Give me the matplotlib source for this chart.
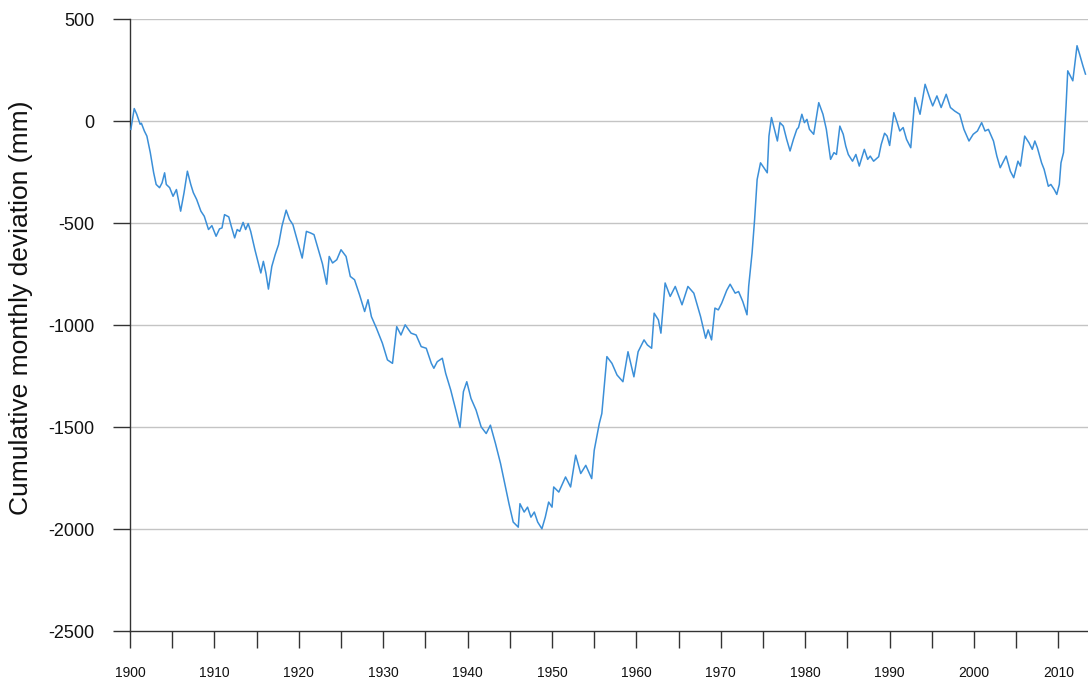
import matplotlib
matplotlib.use("Agg")
import matplotlib.pyplot as plt
from matplotlib.ticker import FixedLocator

plt.rcParams['font.family'] = ['Liberation Sans', 'DejaVu Sans']

years = [
    1900.1, 1900.5, 1900.8, 1901.2, 1901.35, 1901.7, 1902.0, 1902.4, 1902.8, 1903.1,
    1903.5, 1903.8, 1904.1, 1904.3, 1904.7, 1905.1, 1905.5, 1906.0, 1906.4, 1906.8,
    1907.2, 1907.5, 1907.9, 1908.4, 1908.8, 1909.3, 1909.7, 1910.2, 1910.6, 1910.9,
    1911.2, 1911.7, 1912.0, 1912.4, 1912.7, 1913.0, 1913.4, 1913.7, 1914.0, 1914.3,
    1914.8, 1915.2, 1915.5, 1915.8, 1916.1, 1916.4, 1916.8, 1917.2, 1917.6, 1918.0,
    1918.5, 1918.9, 1919.3, 1919.8, 1920.4, 1920.9, 1921.4, 1921.8, 1922.2, 1922.8,
    1923.3, 1923.6, 1924.0, 1924.5, 1925.0, 1925.6, 1926.1, 1926.6, 1927.2, 1927.8,
    1928.2, 1928.6, 1929.2, 1929.9, 1930.5, 1931.1, 1931.6, 1932.1, 1932.6, 1933.3,
    1933.9, 1934.5, 1935.1, 1935.7, 1936.0, 1936.4, 1937.0, 1937.4, 1938.0, 1938.6,
    1939.1, 1939.5, 1939.9, 1940.4, 1941.0, 1941.6, 1942.2, 1942.7, 1943.3, 1943.9,
    1944.4, 1944.9, 1945.4, 1946.0, 1946.2, 1946.7, 1947.1, 1947.5, 1947.9, 1948.3,
    1948.8, 1949.2, 1949.6, 1950.0, 1950.2, 1950.8, 1951.6, 1952.2, 1952.8, 1953.4,
    1954.0, 1954.7, 1955.0, 1955.6, 1955.9, 1956.5, 1957.1, 1957.7, 1958.4, 1959.0,
    1959.7, 1960.2, 1960.9, 1961.3, 1961.8, 1962.1, 1962.6, 1962.9, 1963.4, 1964.0,
    1964.6, 1965.4, 1966.1, 1966.8, 1967.6, 1968.2, 1968.5, 1968.9, 1969.3, 1969.7,
    1970.1, 1970.7, 1971.1, 1971.7, 1972.1, 1972.6, 1973.1, 1973.3, 1973.7, 1974.0,
    1974.3, 1974.7, 1975.1, 1975.5, 1975.7, 1976.0, 1976.4, 1976.7, 1977.0, 1977.4,
    1977.8, 1978.2, 1978.6, 1979.0, 1979.2, 1979.6, 1979.9, 1980.2, 1980.5, 1981.0,
    1981.6, 1982.1, 1982.5, 1983.0, 1983.4, 1983.7, 1984.1, 1984.5, 1984.8, 1985.1,
    1985.6, 1986.0, 1986.4, 1987.0, 1987.4, 1987.7, 1988.1, 1988.7, 1989.0, 1989.4,
    1989.7, 1990.0, 1990.5, 1990.9, 1991.2, 1991.6, 1992.0, 1992.5, 1993.0, 1993.6,
    1994.2, 1994.8, 1995.1, 1995.6, 1996.1, 1996.7, 1997.2, 1997.7, 1998.3, 1998.8,
    1999.4, 1999.9, 2000.4, 2000.9, 2001.3, 2001.7, 2002.3, 2002.7, 2003.1, 2003.5,
    2003.8, 2004.3, 2004.7, 2005.2, 2005.5, 2006.0, 2006.5, 2006.9, 2007.2, 2007.5,
    2008.0, 2008.3, 2008.8, 2009.1, 2009.5, 2009.8, 2010.1, 2010.3, 2010.6, 2010.9,
    2011.1, 2011.7, 2012.2, 2012.5, 2012.9, 2013.2,
]

deviation_mm = [
    -41, 61, 33, -16, -11, -49, -74, -154, -253, -311,
    -327, -303, -254, -311, -327, -369, -336, -442, -352, -246,
    -311, -351, -385, -442, -467, -532, -513, -565, -529, -524,
    -459, -470, -516, -573, -532, -541, -497, -532, -503, -541,
    -631, -696, -745, -688, -745, -824, -713, -655, -606, -516,
    -437, -483, -508, -582, -672, -541, -549, -557, -614, -700,
    -800, -664, -696, -680, -631, -664, -762, -778, -852, -934,
    -876, -959, -1016, -1089, -1171, -1188, -1008, -1049, -999, -1040,
    -1049, -1106, -1114, -1188, -1212, -1180, -1163, -1237, -1319, -1417,
    -1502, -1327, -1278, -1360, -1417, -1499, -1532, -1491, -1581, -1679,
    -1778, -1876, -1966, -1991, -1876, -1917, -1893, -1942, -1917, -1966,
    -1999, -1942, -1868, -1893, -1794, -1819, -1745, -1794, -1638, -1728,
    -1688, -1753, -1614, -1483, -1434, -1155, -1188, -1245, -1278, -1131,
    -1254, -1131, -1073, -1098, -1114, -942, -975, -1040, -794, -860,
    -811, -901, -811, -844, -959, -1065, -1024, -1073, -917, -926,
    -893, -830, -800, -844, -836, -885, -950, -810, -647, -483,
    -287, -205, -229, -254, -74, 17, -49, -98, -8, -25,
    -90, -147, -90, -41, -32, 33, -8, 8, -41, -65,
    90, 33, -41, -188, -155, -164, -25, -65, -123, -164,
    -197, -164, -221, -139, -188, -172, -197, -175, -115, -60,
    -74, -120, 41, -8, -49, -32, -90, -131, 115, 33,
    180, 107, 74, 123, 66, 131, 66, 49, 33, -41,
    -98, -65, -49, -8, -49, -41, -98, -172, -229, -197,
    -172, -246, -278, -197, -221, -74, -106, -139, -98, -131,
    -205, -237, -320, -311, -336, -360, -311, -205, -155, 74,
    246, 197, 369, 328, 270, 230,
]

decade_ticks = list(range(1900, 2011, 10))
half_decade_ticks = list(range(1905, 2006, 10))
decade_labels = [str(y) for y in decade_ticks]
y_ticks = [500, 0, -500, -1000, -1500, -2000, -2500]
y_labels = [str(v) for v in y_ticks]

fig = plt.figure(figsize=(10.88, 6.84), dpi=100)
ax = fig.add_axes([130 / 1088, 1 - 631 / 684, 1 - 130 / 1088, (631 - 19) / 684])

ax.plot(years, deviation_mm, color='#3b8fd8', linewidth=1.1, zorder=3)

ax.set_xlim(1900, 2013.5)
ax.set_ylim(-2500, 500)

ax.set_yticks(y_ticks)
ax.set_yticklabels(y_labels, fontsize=13, color='#111111')
ax.xaxis.set_major_locator(FixedLocator(decade_ticks))
ax.set_xticklabels(decade_labels, fontsize=10, color='#111111')
ax.xaxis.set_minor_locator(FixedLocator(half_decade_ticks))

ax.tick_params(axis='y', which='major', direction='out', length=12.5, width=1.0,
               color='#333333', pad=13)
ax.tick_params(axis='x', which='both', direction='out', length=12.5, width=1.0,
               color='#333333', pad=13)

for v in y_ticks:
    if v != -2500:
        ax.axhline(v, color='#c4c4c4', linewidth=1.0, zorder=1)

for s in ['top', 'right']:
    ax.spines[s].set_visible(False)
for s in ['left', 'bottom']:
    ax.spines[s].set_color('#333333')
    ax.spines[s].set_linewidth(1.0)

ax.set_ylabel('Cumulative monthly deviation (mm)', fontsize=19, color='#111111')
ax.yaxis.set_label_coords(-0.101, 0.529)

fig.savefig('out.png', dpi=100)
